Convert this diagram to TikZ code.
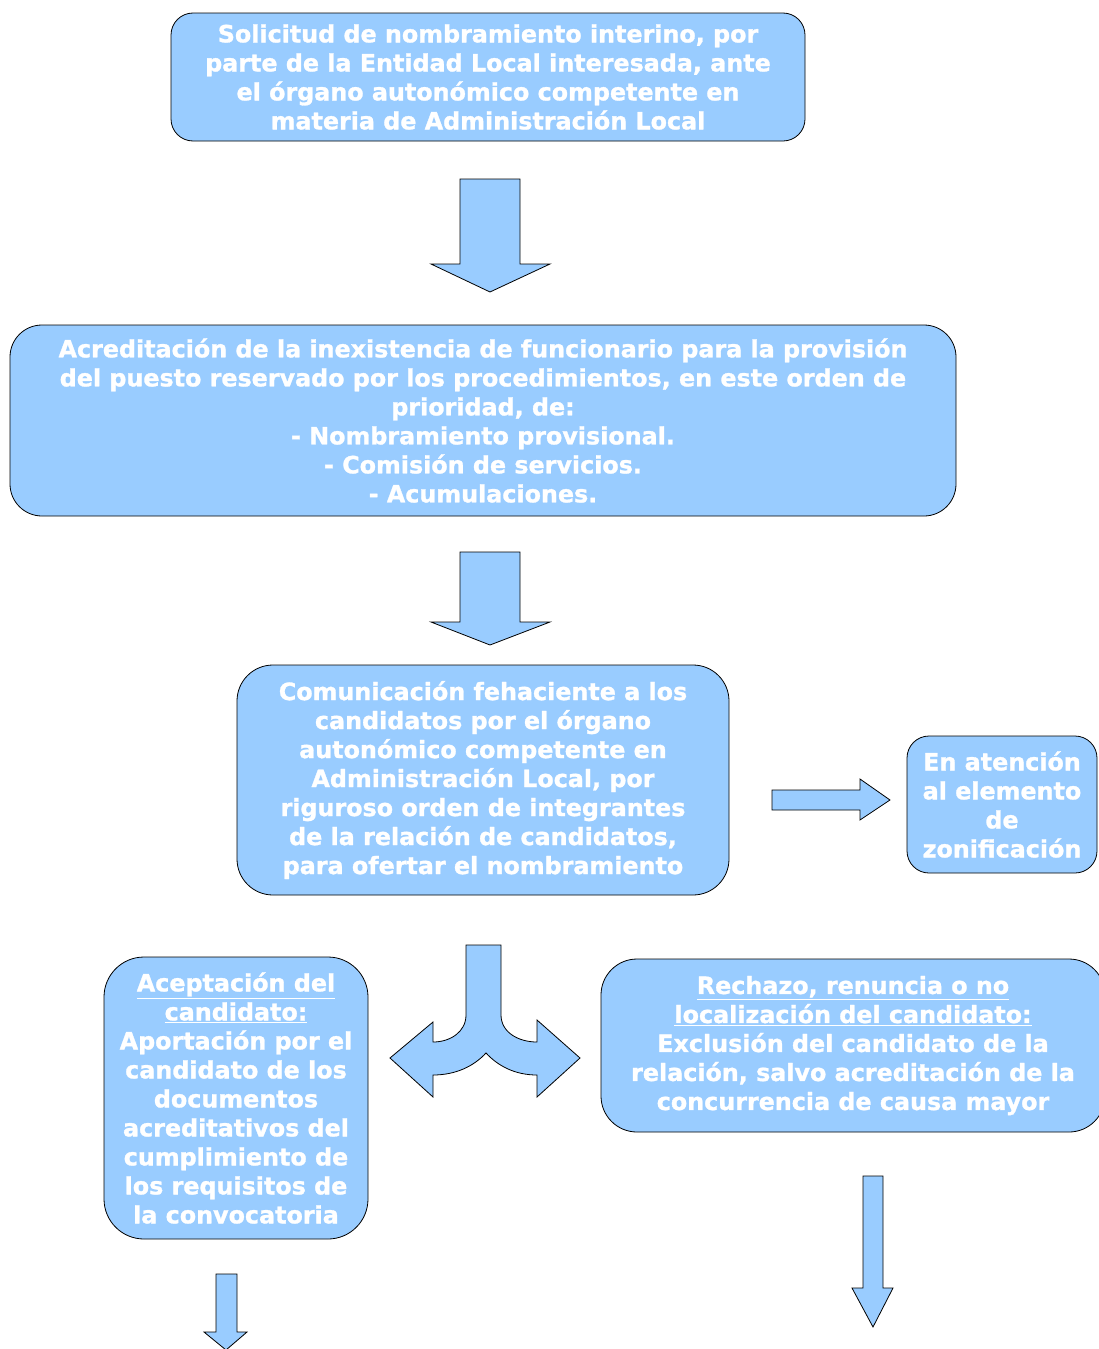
\documentclass[tikz,border=0pt]{standalone}
\usepackage{fontspec}
\setmainfont{DejaVu Sans}[BoldFeatures={FakeBold=1.2}]
\begin{document}
\begin{tikzpicture}[x=1pt,y=-1pt,
  boxfill/.style={fill=skyfill,draw=black,line width=0.8pt},
  stepbox/.style={boxfill,inner sep=0pt,align=center,text=white,
    font={\fontsize{23.8}{29}\selectfont\bfseries}},
  blockarrow/.style={fill=skyfill,draw=black,line width=0.8pt,line join=miter}]
\definecolor{skyfill}{HTML}{99CCFF}
\useasboundingbox (0,0) rectangle (1099,1349);
\begin{scope}
\clip (0,0) rectangle (1099,1349);

% process boxes
\node[stepbox,rounded corners=22pt,minimum width=634pt,minimum height=128pt] (solicitud) at (488,77)
  {Solicitud de nombramiento interino, por\\parte de la Entidad Local interesada, ante\\el órgano autonómico competente en\\materia de Administración Local};

\node[stepbox,rounded corners=32pt,minimum width=946pt,minimum height=191pt] (acreditacion) at (483,420.5)
  {Acreditación de la inexistencia de funcionario para la provisión\\del puesto reservado por los procedimientos, en este orden de\\prioridad, de:\\- Nombramiento provisional.\\- Comisión de servicios.\\- Acumulaciones.};

\node[stepbox,rounded corners=36pt,minimum width=492pt,minimum height=230pt] (comunicacion) at (483,780)
  {Comunicación fehaciente a los\\candidatos por el órgano\\autonómico competente en\\Administración Local, por\\riguroso orden de integrantes\\de la relación de candidatos,\\para ofertar el nombramiento};

\node[stepbox,rounded corners=22pt,minimum width=190pt,minimum height=137pt] (zonificacion) at (1002,804.5)
  {En atención\\al elemento\\de\\zonificación};

\node[stepbox,rounded corners=40pt,minimum width=264pt,minimum height=282pt] (aceptacion) at (236,1098)
  {\underline{Aceptación del}\\\underline{candidato:}\\Aportación por el\\candidato de los\\documentos\\acreditativos del\\cumplimiento de\\los requisitos de\\la convocatoria};

\node[stepbox,rounded corners=36pt,minimum width=504pt,minimum height=173pt] (rechazo) at (853,1045.5)
  {\underline{Rechazo, renuncia o no}\\\underline{localización del candidato:}\\Exclusión del candidato de la\\relación, salvo acreditación de la\\concurrencia de causa mayor};

% block arrows between the steps
\draw[blockarrow] (460,179) -- (520,179) -- (520,264) -- (550,264) -- (490,292) -- (431,264) -- (460,264) -- cycle;
\draw[blockarrow] (460,552) -- (520,552) -- (520,622) -- (550,622) -- (490,645) -- (431,622) -- (460,622) -- cycle;
\draw[blockarrow] (772,790) -- (860,790) -- (860,779) -- (890,800) -- (860,820) -- (860,810) -- (772,810) -- cycle;

% forked arrow
\draw[blockarrow] (466,945) -- (501,945) -- (501,1015)
  .. controls (501,1032) and (518,1042) .. (537,1042)
  -- (537,1020) -- (580,1058) -- (537,1097) -- (537,1075)
  .. controls (515,1075) and (498,1066) .. (486,1053)
  .. controls (474,1066) and (456,1075) .. (433,1075)
  -- (433,1097) -- (390,1058) -- (433,1022) -- (433,1042)
  .. controls (450,1042) and (466,1032) .. (466,1015) -- cycle;

% outgoing arrows at the bottom
\draw[blockarrow] (216,1274) -- (237,1274) -- (237,1332) -- (247,1332) -- (226,1350) -- (204,1332) -- (216,1332) -- cycle;
\draw[blockarrow] (863,1176) -- (883,1176) -- (883,1288) -- (893,1288) -- (873,1327) -- (852,1288) -- (863,1288) -- cycle;
\end{scope}
\end{tikzpicture}
\end{document}
